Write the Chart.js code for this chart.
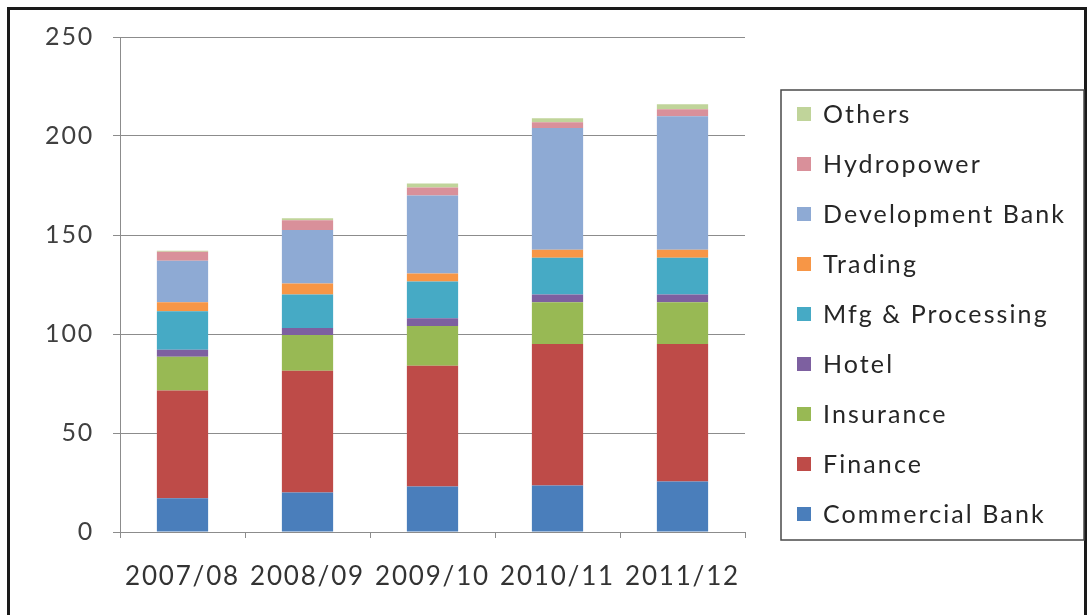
<!DOCTYPE html>
<html>
<head>
<meta charset="utf-8">
<script src="https://cdn.jsdelivr.net/npm/chart.js"></script>
<style>
  html, body { margin: 0; padding: 0; background: #fff; }
  canvas { display: block; }
</style>
</head>
<body>
<canvas id="sectorChart" width="1091" height="615"></canvas>
<script>
// fiscal years
const years = ['2007/08', '2008/09', '2009/10', '2010/11', '2011/12'];

// sector values per year
const commercialBank = [17, 20, 23, 23.5, 25.5];
const finance = [54.5, 61.5, 61, 71.5, 69.5];
const insurance = [17, 18, 20, 21, 21];
const hotel = [3.5, 3.5, 4, 4, 4];
const mfgProcessing = [19.5, 17, 18.5, 18.5, 18.5];
const trading = [4.5, 5.5, 4, 4, 4];
const developmentBank = [21, 27, 39.5, 61.5, 67.5];
const hydropower = [4.5, 5, 4, 3, 3.5];
const others = [0.5, 1, 2, 2, 2.5];

// y axis ticks
const yTicks = [0, 50, 100, 150, 200, 250];

const FONT = 'Lato, "Open Sans", sans-serif';

const series = [
    { label: 'Commercial Bank', data: commercialBank, color: '#4a7ebb' },
    { label: 'Finance', data: finance, color: '#be4b48' },
    { label: 'Insurance', data: insurance, color: '#98b954' },
    { label: 'Hotel', data: hotel, color: '#7d60a0' },
    { label: 'Mfg & Processing', data: mfgProcessing, color: '#46aac5' },
    { label: 'Trading', data: trading, color: '#f79646' },
    { label: 'Development Bank', data: developmentBank, color: '#8eaad4' },
    { label: 'Hydropower', data: hydropower, color: '#d9909a' },
    { label: 'Others', data: others, color: '#c0d49a' }
];

// outer frame + boxed legend drawn on the canvas
const framePlugin = {
    id: 'frame',
    beforeDraw(chart) {
        // wider spacing for the axis labels
        chart.ctx.letterSpacing = '1.8px';
    },
    afterDraw(chart) {
        const ctx = chart.ctx;
        ctx.save();
        ctx.strokeStyle = '#1a1a1a';
        ctx.lineWidth = 3;
        ctx.beginPath();
        ctx.moveTo(8.5, 640);
        ctx.lineTo(8.5, 8.5);
        ctx.lineTo(1085.5, 8.5);
        ctx.lineTo(1085.5, 640);
        ctx.stroke();

        // legend box
        ctx.strokeStyle = '#4a4a4a';
        ctx.lineWidth = 1.5;
        ctx.strokeRect(781, 90, 303, 450);

        ctx.font = '25px ' + FONT;
        ctx.letterSpacing = '2.1px';
        ctx.textBaseline = 'middle';
        const sets = chart.data.datasets.slice().reverse();
        sets.forEach((ds, i) => {
            const y = 114 + i * 50;
            ctx.fillStyle = ds.backgroundColor;
            ctx.fillRect(797, y - 7, 14, 14);
            ctx.fillStyle = '#262626';
            ctx.fillText(ds.label, 823, y + 1);
        });
        ctx.restore();
    }
};

new Chart(document.getElementById('sectorChart'), {
    type: 'bar',
    data: {
        labels: years,
        datasets: series.map(s => ({
            label: s.label,
            data: s.data,
            backgroundColor: s.color,
            borderWidth: 0,
            barPercentage: 0.41,
            categoryPercentage: 1
        }))
    },
    options: {
        responsive: false,
        animation: false,
        devicePixelRatio: 1,
        layout: { padding: { left: 0, right: 346, top: 37, bottom: 0 } },
        plugins: {
            legend: { display: false },
            tooltip: { enabled: false }
        },
        scales: {
            x: {
                stacked: true,
                grid: {
                    offset: true,
                    drawOnChartArea: false,
                    tickLength: 6,
                    color: '#8c8c8c'
                },
                border: { color: '#8c8c8c', width: 1 },
                ticks: {
                    font: { family: FONT, size: 26 },
                    color: '#333',
                    padding: 23
                },
                afterFit(scale) { scale.height = 83; }
            },
            y: {
                stacked: true,
                min: 0,
                max: 250,
                afterBuildTicks(scale) {
                    scale.ticks = yTicks.map(v => ({ value: v }));
                },
                grid: {
                    color: '#8c8c8c',
                    tickLength: 7
                },
                border: { color: '#8c8c8c', width: 1 },
                ticks: {
                    font: { family: FONT, size: 25 },
                    color: '#404040',
                    padding: 19
                },
                afterFit(scale) { scale.width = 120; }
            }
        }
    },
    plugins: [framePlugin]
});
</script>
</body>
</html>
